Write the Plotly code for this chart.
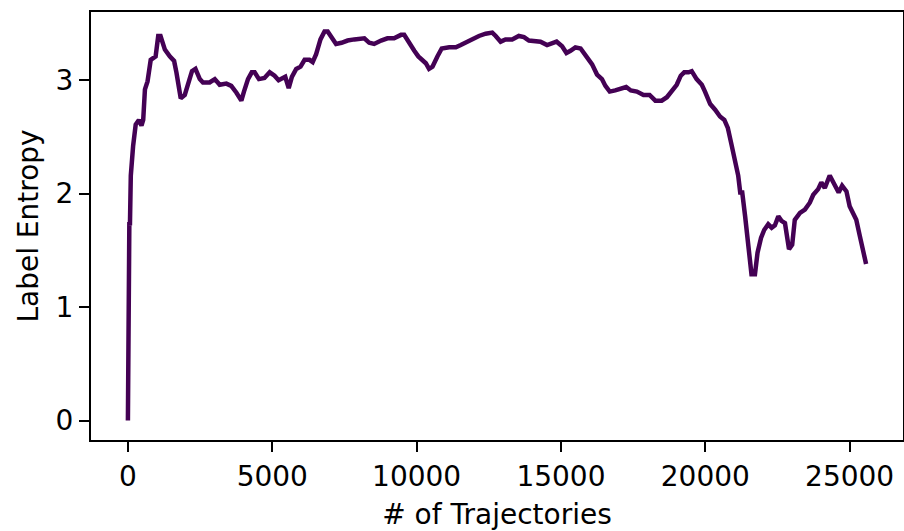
import plotly.graph_objects as go

trajectories = [0, 10, 50, 70, 100, 180, 270, 380, 470, 530, 590, 680, 790, 960, 1050, 1130, 1280, 1450, 1600, 1680,
                1830, 1970, 2080, 2220, 2340, 2490, 2600, 2830, 3010, 3180, 3410, 3580, 3760, 3930, 4020, 4160, 4290,
                4390, 4540, 4730, 4910, 5080, 5220, 5330, 5450, 5570, 5680, 5830, 5980, 6120, 6290, 6400, 6520, 6670,
                6810, 6920, 7090, 7210, 7400, 7610, 7840, 8070, 8190, 8360, 8530, 8770, 8990, 9220, 9460, 9570, 9740,
                9920, 10060, 10230, 10320, 10430, 10550, 10720, 10870, 11130, 11360, 11530, 11760, 11990, 12160, 12390,
                12620, 12740, 12910, 13080, 13310, 13540, 13720, 13890, 14120, 14290, 14520, 14640, 14850, 15040, 15190,
                15330, 15500, 15680, 15900, 16080, 16250, 16420, 16540, 16690, 16880, 17110, 17260, 17420, 17630, 17860,
                18070, 18270, 18490, 18670, 18840, 19010, 19150, 19270, 19420, 19530, 19700, 19880, 19990, 20170, 20340,
                20510, 20660, 20780, 20910, 21030, 21140, 21210, 21280, 21380, 21490, 21600, 21720, 21810, 21930, 22040,
                22180, 22300, 22410, 22530, 22640, 22760, 22900, 23010, 23100, 23280, 23450, 23620, 23740, 23910, 24020,
                24140, 24310, 24490, 24620, 24740, 24890, 25000, 25120, 25230, 25350, 25460, 25570]

entropy = [0.00, 1.40, 1.75, 1.72, 2.16, 2.42, 2.61, 2.65, 2.60, 2.65, 2.92, 2.99, 3.18, 3.21, 3.39, 3.39, 3.27, 3.21, 3.17, 3.07,
           2.84, 2.87, 2.98, 3.08, 3.10, 3.01, 2.98, 2.98, 3.01, 2.96, 2.97, 2.95, 2.89, 2.82, 2.90, 3.01, 3.07,
           3.07, 3.01, 3.02, 3.07, 3.04, 3.00, 3.01, 3.03, 2.93, 3.03, 3.10, 3.12, 3.18, 3.18, 3.16, 3.23, 3.36,
           3.43, 3.43, 3.37, 3.32, 3.33, 3.35, 3.36, 3.37, 3.37, 3.33, 3.32, 3.35, 3.37, 3.37, 3.40, 3.40, 3.34,
           3.26, 3.21, 3.17, 3.15, 3.10, 3.12, 3.21, 3.28, 3.29, 3.29, 3.31, 3.34, 3.36, 3.39, 3.41,
           3.42, 3.39, 3.34, 3.36, 3.36, 3.39, 3.38, 3.35, 3.34, 3.34, 3.31, 3.32, 3.34, 3.30, 3.24,
           3.26, 3.29, 3.28, 3.21, 3.14, 3.05, 3.01, 2.95, 2.90, 2.91, 2.93, 2.94, 2.91, 2.90, 2.87,
           2.87, 2.82, 2.82, 2.85, 2.90, 2.96, 3.04, 3.07, 3.07, 3.08, 3.01, 2.96, 2.90, 2.79, 2.74,
           2.68, 2.65, 2.58, 2.43, 2.30, 2.16, 2.01, 2.01, 1.80, 1.54, 1.29, 1.29, 1.48, 1.61, 1.68,
           1.73, 1.70, 1.72, 1.80, 1.76, 1.74, 1.51, 1.55, 1.77, 1.83, 1.86, 1.92, 1.99, 2.04, 2.10,
           2.05, 2.16, 2.08, 2.01, 2.07, 2.02, 1.89, 1.82, 1.77, 1.63, 1.48, 1.38]

x_ticks = [0, 5000, 10000, 15000, 20000, 25000]
x_tick_labels = ["0", "5000", "10000", "15000", "20000", "25000"]
y_ticks = [0, 1, 2, 3]
y_tick_labels = ["0", "1", "2", "3"]

fig = go.Figure()
fig.add_trace(go.Scatter(x=trajectories, y=entropy, mode="lines",
                         line=dict(color="#440154", width=4.5), showlegend=False))

font = dict(family="DejaVu Sans", size=28, color="black")
axis_common = dict(showline=True, linecolor="black", linewidth=2, mirror=True,
                   ticks="outside", ticklen=10, tickwidth=2, tickcolor="black",
                   showgrid=False, zeroline=False, tickfont=font, automargin=False)

xmax = max(trajectories)
fig.update_xaxes(range=[-0.05 * xmax, 1.05 * xmax], tickvals=x_ticks, ticktext=x_tick_labels,
                 title=dict(text="# of Trajectories", font=font, standoff=14), **axis_common)
ymax = max(entropy)
fig.update_yaxes(range=[-0.05 * ymax, 1.05 * ymax], tickvals=y_ticks, ticktext=y_tick_labels,
                 title=dict(text="Label Entropy", font=font, standoff=9), **axis_common)

fig.update_layout(width=904, height=531, margin=dict(l=91, r=1, t=12, b=91),
                  plot_bgcolor="white", paper_bgcolor="white", font=font)

post = ("document.documentElement.style.margin='0';document.body.style.margin='0';"
        "document.body.style.padding='0';document.body.style.overflow='hidden';"
        "var gd=document.getElementById('{plot_id}');"
        "Plotly.relayout(gd,{width:904,height:531});")

fig.write_html("out.html", config={"responsive": False, "displayModeBar": False}, post_script=post)
